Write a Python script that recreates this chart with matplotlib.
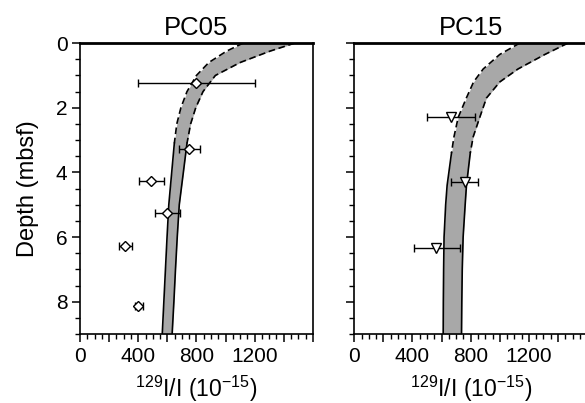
import numpy as np
import matplotlib
matplotlib.use("Agg")
import matplotlib.pyplot as plt
from matplotlib.ticker import MultipleLocator, FuncFormatter

plt.rcParams['font.family'] = ['Liberation Sans', 'DejaVu Sans']
plt.rcParams['mathtext.fontset'] = 'custom'
plt.rcParams['mathtext.rm'] = 'Liberation Sans'
plt.rcParams['mathtext.default'] = 'regular'

# PC05 model band (depth in mbsf, 129I/I in 1e-15)
pc05_depth = [0, 0.25, 0.6, 1.0, 1.5, 2.0, 2.5, 3.1, 4.0, 5.0, 6.0, 7.0, 8.0, 9.0]
pc05_lo    = [1121, 1006, 885, 800, 735, 693, 665, 648, 630, 610, 598, 587, 576, 565]
pc05_hi    = [1475, 1304, 1100, 930, 845, 795, 760, 735, 710, 682, 668, 656, 645, 633]
pc05_dash_to = 3.1

# PC05 measurements
pc05_obs_x   = [800, 748, 487, 599, 309, 400]
pc05_obs_d   = [1.24, 3.28, 4.28, 5.26, 6.27, 8.12]
pc05_err_lo  = [400, 679, 407, 517, 270, 377]
pc05_err_hi  = [1200, 823, 578, 686, 355, 430]

# PC15 model band
pc15_depth = [0, 0.35, 0.8, 1.2, 1.7, 2.3, 2.9, 3.4, 4.4, 5.0, 6.0, 7.0, 8.0, 9.0]
pc15_lo    = [1137, 1000, 886, 820, 770, 714, 685, 668, 638, 628, 617, 614, 612, 611]
pc15_hi    = [1468, 1310, 1125, 1000, 908, 862, 817, 797, 771, 762, 748, 742, 739, 737]
pc15_dash_to = 3.4

# PC15 measurements
pc15_obs_x  = [668, 760, 565]
pc15_obs_d  = [2.29, 4.31, 6.35]
pc15_err_lo = [497, 668, 410]
pc15_err_hi = [833, 851, 725]

fig = plt.figure(figsize=(5.85, 4.03), dpi=100)
ax1 = fig.add_axes([0.1368, 0.171, 0.398, 0.722])
ax2 = fig.add_axes([0.6056, 0.171, 0.398, 0.722])


def draw_band(ax, depth, lo, hi, dash_to):
    depth = np.array(depth); lo = np.array(lo); hi = np.array(hi)
    ax.fill_betweenx(depth, lo, hi, color='#a8a8a8', lw=0, zorder=1)
    top = depth <= dash_to
    bot = depth >= dash_to
    for xs in (lo, hi):
        ax.plot(xs[top], depth[top], color='black', lw=1.2, ls=(0, (4, 2.2)), zorder=2)
        ax.plot(xs[bot], depth[bot], color='black', lw=1.2, zorder=2)


def draw_obs(ax, x, d, elo, ehi, marker, ms):
    x = np.array(x)
    xerr = [x - np.array(elo), np.array(ehi) - x]
    ax.errorbar(x, d, xerr=xerr, fmt='none', ecolor='black', elinewidth=1,
                capsize=3, capthick=1, zorder=3)
    ax.plot(x, d, ls='none', marker=marker, ms=ms, mfc='white', mec='black',
            mew=1, zorder=4)


draw_band(ax1, pc05_depth, pc05_lo, pc05_hi, pc05_dash_to)
draw_obs(ax1, pc05_obs_x, pc05_obs_d, pc05_err_lo, pc05_err_hi, 'D', 5)

draw_band(ax2, pc15_depth, pc15_lo, pc15_hi, pc15_dash_to)
draw_obs(ax2, pc15_obs_x, pc15_obs_d, pc15_err_lo, pc15_err_hi, 'v', 7.5)

xfmt = FuncFormatter(lambda v, p: f"{int(v)}" if v % 400 == 0 and v < 1600 else "")

for ax, name in ((ax1, 'PC05'), (ax2, 'PC15')):
    ax.set_xlim(0, 1600)
    ax.set_ylim(9, 0)
    ax.xaxis.set_major_locator(MultipleLocator(200))
    ax.xaxis.set_minor_locator(MultipleLocator(50))
    ax.xaxis.set_major_formatter(xfmt)
    ax.yaxis.set_major_locator(MultipleLocator(2))
    ax.yaxis.set_minor_locator(MultipleLocator(0.5))
    ax.tick_params(which='major', direction='out', length=6, width=1.1, labelsize=15, pad=3)
    ax.tick_params(which='minor', direction='out', length=3.5, width=1.0)
    for s in ax.spines.values():
        s.set_linewidth(1.2)
    ax.spines['top'].set_linewidth(2)
    ax.set_title(name, fontsize=18.5, pad=6)
    ax.set_xlabel('$^{129}$I/I (10$^{-15}$)', fontsize=16.5, labelpad=6)

ax1.set_ylabel('Depth (mbsf)', fontsize=17, labelpad=12)
ax2.tick_params(axis='y', labelleft=False)

fig.savefig('out.png', dpi=100)
